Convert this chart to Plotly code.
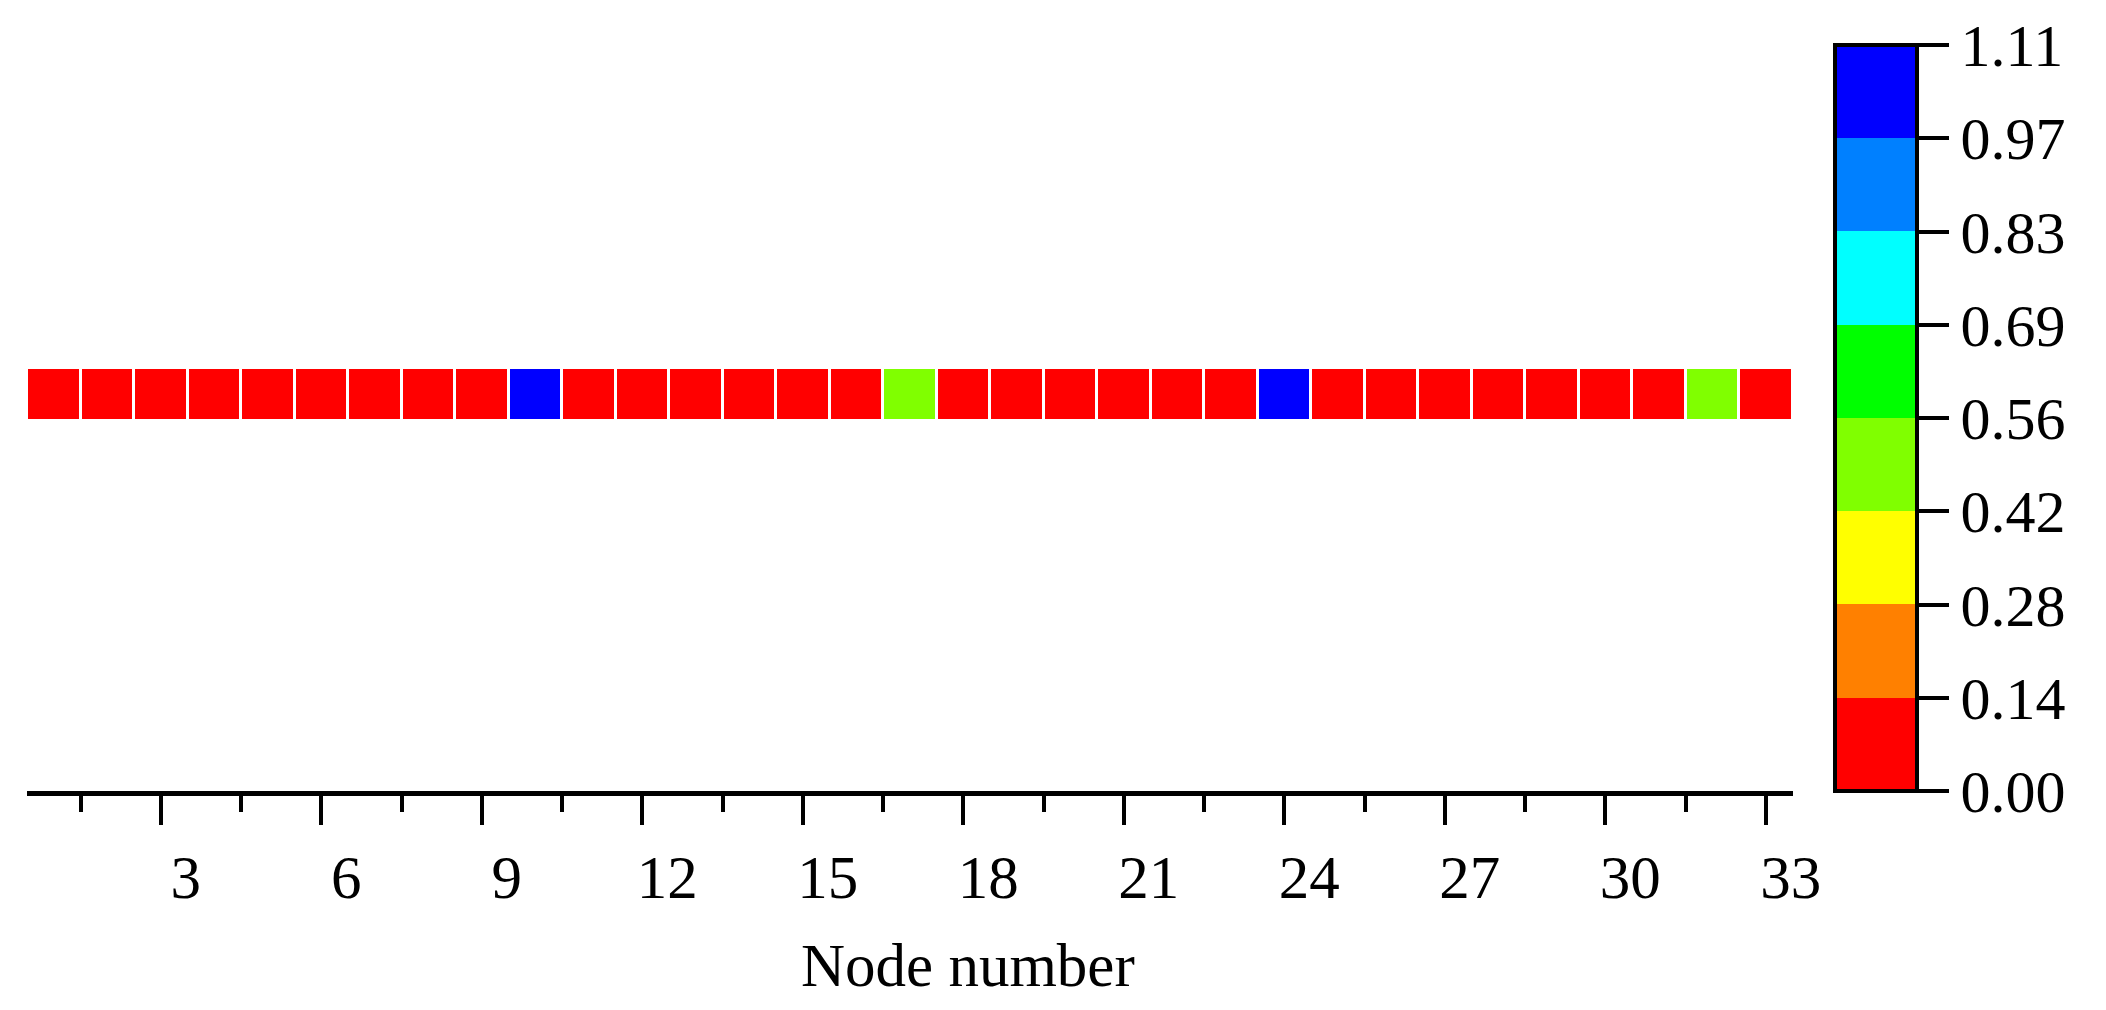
import plotly.graph_objects as go

# node values (one row)
nodes = list(range(1, 34))
values = [
    0.0, 0.0, 0.0, 0.0, 0.0, 0.0, 0.0, 0.0, 0.0, 1.11,
    0.0, 0.0, 0.0, 0.0, 0.0, 0.0, 0.50, 0.0, 0.0, 0.0,
    0.0, 0.0, 0.0, 1.08, 0.0, 0.0, 0.0, 0.0, 0.0, 0.0,
    0.0, 0.48, 0.0,
]

# colour bar levels and band colours (Origin style rainbow)
zmax = 1.11
level_labels = ["0.00", "0.14", "0.28", "0.42", "0.56", "0.69", "0.83", "0.97", "1.11"]
band_colors = ["#FF0000", "#FF8000", "#FFFF00", "#80FF00",
               "#00FF00", "#00FFFF", "#0080FF", "#0000FF"]

x_ticks = list(range(3, 34, 3))

W, H = 2106, 1010
FONT = "Times New Roman, Liberation Serif, serif"

n = len(band_colors)
colorscale = []
for i, c in enumerate(band_colors):
    colorscale.append([i / n, c])
    colorscale.append([(i + 1) / n, c])
level_vals = [zmax * k / n for k in range(n + 1)]

# plot area in pixels
left, right = 27, 1811
top, bottom = 45, 791
cell_px = 50
row_center = 394
y_range = [-(bottom - row_center) / cell_px, (row_center - top) / cell_px]

fig = go.Figure(
    go.Heatmap(
        x=nodes,
        y=[0],
        z=[values],
        zmin=0,
        zmax=zmax,
        colorscale=colorscale,
        xgap=3,
        colorbar=dict(
            xref="container",
            x=1835 / W,
            xanchor="left",
            xpad=0,
            ypad=0,
            thickness=82,
            thicknessmode="pixels",
            len=1,
            lenmode="fraction",
            y=0.5,
            yanchor="middle",
            outlinecolor="black",
            outlinewidth=4,
            tickmode="array",
            tickvals=level_vals,
            ticktext=level_labels,
            ticks="outside",
            ticklen=30,
            tickwidth=4,
            tickcolor="black",
            tickfont=dict(family=FONT, size=60, color="black"),
        ),
    )
)

fig.update_xaxes(
    range=[0.5, 33.5],
    showline=True,
    linecolor="black",
    linewidth=4.5,
    showgrid=False,
    zeroline=False,
    tickmode="array",
    tickvals=x_ticks,
    ticks="outside",
    ticklen=29,
    tickwidth=4,
    tickcolor="black",
    ticklabelshift=25,
    tickfont=dict(family=FONT, size=61, color="black"),
    minor=dict(dtick=1.5, tick0=0, ticks="outside", ticklen=16,
               tickwidth=4, tickcolor="black"),
)
fig.update_yaxes(range=y_range, visible=False, showgrid=False, zeroline=False)

fig.add_annotation(
    text="Node number",
    xref="paper", yref="paper",
    x=(978 - left) / (right - left), y=-(965 - bottom) / (bottom - top),
    xanchor="center", yanchor="middle",
    showarrow=False,
    font=dict(family=FONT, size=61, color="black"),
)

fig.update_layout(
    width=W,
    height=H,
    margin=dict(l=left, r=W - right, t=top, b=H - bottom),
    plot_bgcolor="white",
    paper_bgcolor="white",
)

fig.write_html("out.html", config={"displayModeBar": False},
               post_script="document.body.style.margin='0';")
